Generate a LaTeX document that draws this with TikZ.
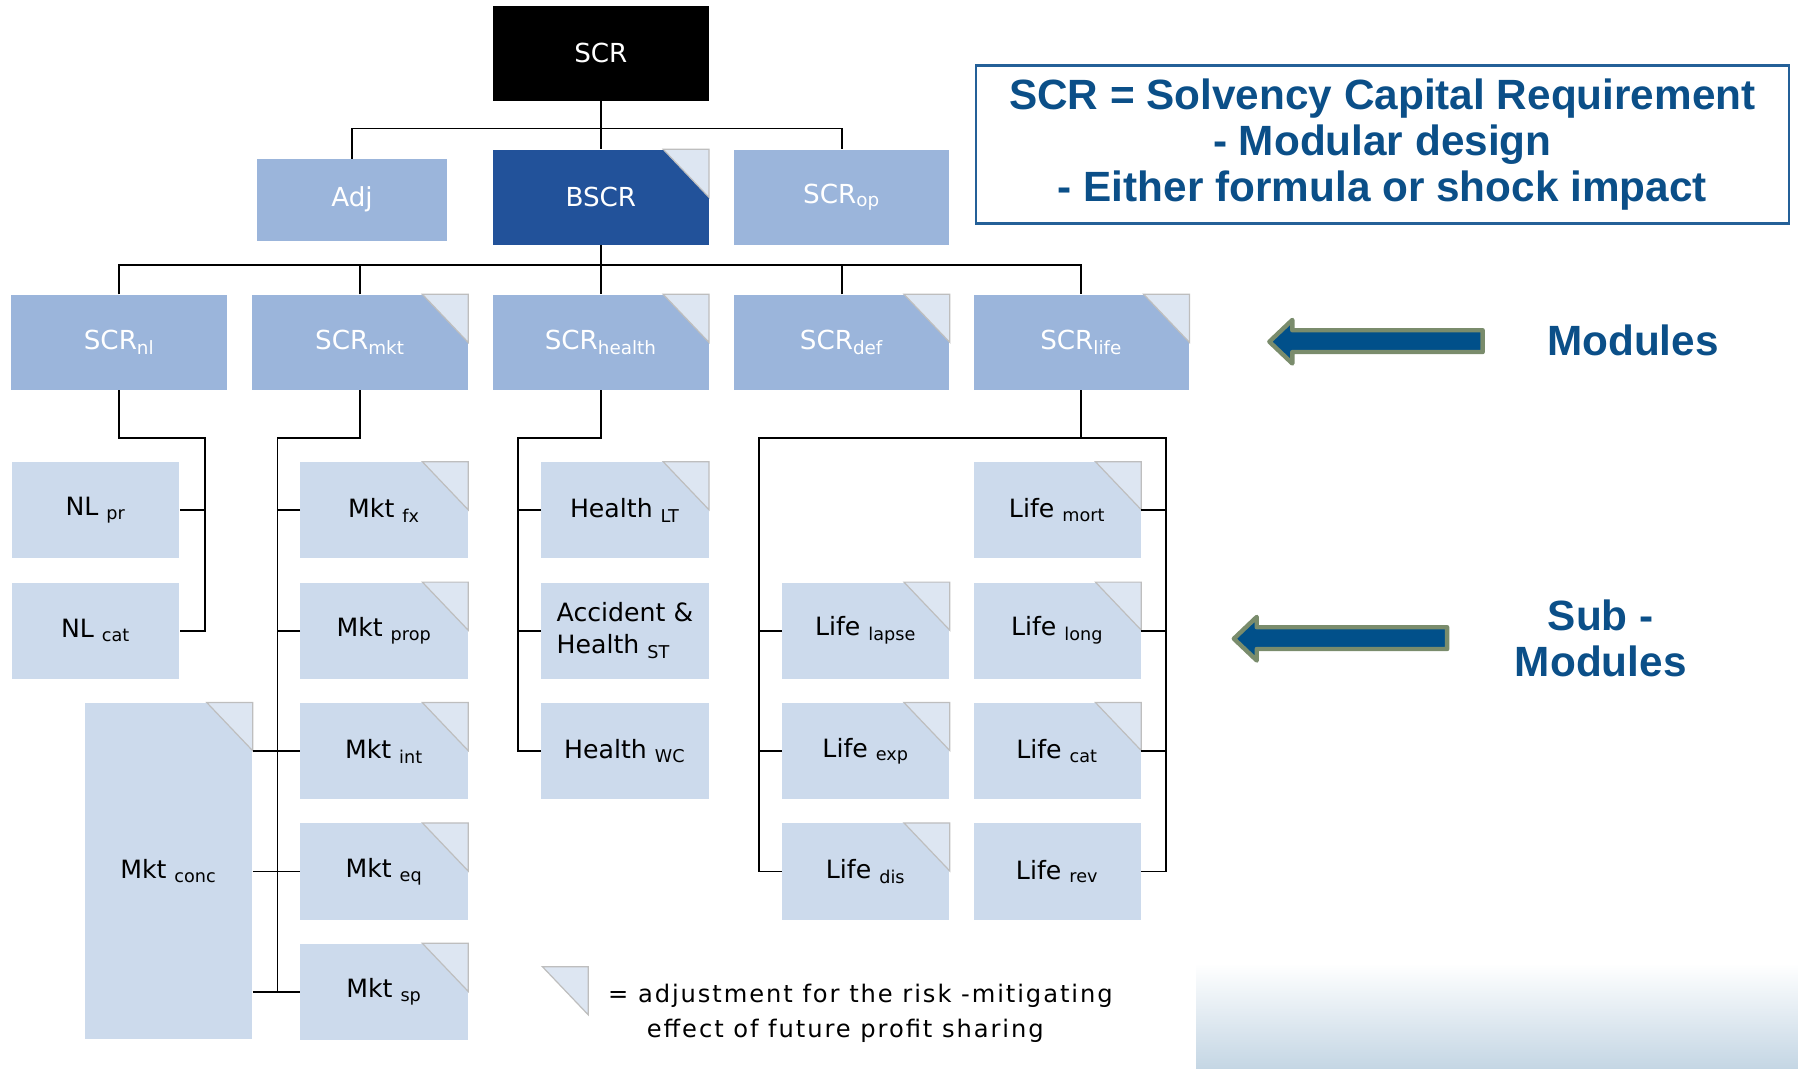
\documentclass[tikz,border=0pt]{standalone}
\usepackage{fontspec}
\setsansfont{DejaVu Sans}
\newfontfamily\titlefont{Liberation Sans}
\newfontfamily\legendfont[LetterSpace=8]{DejaVu Sans}
\definecolor{darkbox}{RGB}{34,82,154}
\definecolor{midbox}{RGB}{155,181,219}
\definecolor{lightbox}{RGB}{204,218,236}
\definecolor{cornerfill}{RGB}{221,230,242}
\definecolor{cornerline}{RGB}{190,190,190}
\definecolor{titleblue}{RGB}{11,79,136}
\definecolor{titleline}{RGB}{36,96,152}
\definecolor{arrowfill}{RGB}{1,80,138}
\definecolor{arrowedge}{RGB}{122,140,108}
\definecolor{fadeblue}{RGB}{196,214,228}

\begin{document}
\begin{tikzpicture}[x=0.02cm, y=-0.02cm,
    every node/.style={inner sep=0pt, font=\sffamily},
    rootbox/.style={fill=black, text=white, minimum width=3.76cm, minimum height=1.66cm, font=\sffamily\fontsize{13}{15}\selectfont},
    basebox/.style={rootbox, fill=darkbox},
    modbox/.style={rootbox, fill=midbox},
    subbox/.style={fill=lightbox, text=black, minimum width=2.92cm, minimum height=1.68cm, font=\sffamily\fontsize{12.5}{16}\selectfont},
    fps/.style={fill=cornerfill, draw=cornerline, line width=0.6pt},
    link/.style={draw=black, line width=0.9pt},
    titlebox/.style={draw=titleline, line width=1.2pt, minimum width=14.18cm, minimum height=2.76cm, align=center, text=titleblue, font=\titlefont\bfseries\fontsize{21}{22.8}\selectfont},
    sidelabel/.style={text=titleblue, align=center, font=\titlefont\bfseries\fontsize{21}{22.8}\selectfont},
    bigarrow/.style={fill=arrowfill, draw=arrowedge, line width=2.2pt, line join=round}
]
\useasboundingbox (0,0) rectangle (1568,932);
\shade[top color=white, bottom color=fadeblue] (1043,840) rectangle (1568,932);

% root and level 2
\node[rootbox] (scr) at (524,46.5) {SCR};
\node[modbox, minimum width=3.32cm, minimum height=1.42cm] (adj) at (307,174.5) {\raisebox{4pt}{Adj}};
\node[basebox] (bscr) at (524,172) {BSCR};
\node[modbox] (scrop) at (734,172) {SCR\textsubscript{op}};

% modules
\node[modbox] (scrnl) at (104,298.5) {SCR\textsubscript{nl}};
\node[modbox] (scrmkt) at (314,298.5) {SCR\textsubscript{mkt}};
\node[modbox] (scrhealth) at (524,298.5) {SCR\textsubscript{health}};
\node[modbox] (scrdef) at (734,298.5) {SCR\textsubscript{def}};
\node[modbox] (scrlife) at (943,298.5) {SCR\textsubscript{life}};

% sub-modules
\node[subbox] (nlpr) at (83.5,445) {NL \textsubscript{pr}};
\node[subbox] (nlcat) at (83.5,550) {NL \textsubscript{cat}};

\node[subbox] (mktfx) at (335,445) {Mkt \textsubscript{fx}};
\node[subbox] (mktprop) at (335,550) {Mkt \textsubscript{prop}};
\node[subbox] (mktint) at (335,655) {Mkt \textsubscript{int}};
\node[subbox] (mkteq) at (335,760) {Mkt \textsubscript{eq}};
\node[subbox] (mktsp) at (335,865) {Mkt \textsubscript{sp}};
\node[subbox, minimum height=5.86cm] (mktconc) at (147,759.5) {Mkt \textsubscript{conc}};

\node[subbox] (healthlt) at (545,445) {Health \textsubscript{LT}};
\node[subbox, align=left] (healthst) at (545,550) {Accident \&\\Health \textsubscript{ST}};
\node[subbox] (healthwc) at (545,655) {Health \textsubscript{WC}};

\node[subbox] (lifemort) at (922,445) {Life \textsubscript{mort}};
\node[subbox] (lifelapse) at (755,550) {Life \textsubscript{lapse}};
\node[subbox] (lifelong) at (922,550) {Life \textsubscript{long}};
\node[subbox] (lifeexp) at (755,655) {Life \textsubscript{exp}};
\node[subbox] (lifecat) at (922,655) {Life \textsubscript{cat}};
\node[subbox] (lifedis) at (755,760) {Life \textsubscript{dis}};
\node[subbox] (liferev) at (922,760) {Life \textsubscript{rev}};

% profit sharing corners
\foreach \n in {bscr, scrmkt, scrhealth, scrdef, scrlife, mktfx, mktprop, mktint, mkteq, mktsp, mktconc, healthlt, lifemort, lifelapse, lifelong, lifeexp, lifecat, lifedis}
    \filldraw[fps] (\n.north east) -- ++(-40,0) -- ++(40,42) -- cycle;

% root to level 2
\coordinate (bus2) at (0,112);
\draw[link] (scr.south) -- (bscr.north);
\draw[link] (adj.north) |- (scrop.north |- bus2) -- (scrop.north);

% level 2 to modules
\coordinate (bus3) at (0,231);
\draw[link] (bscr.south) -- (scrhealth.north);
\draw[link] (scrnl.north) |- (scrlife.north |- bus3) -- (scrlife.north);
\foreach \n in {scrmkt, scrdef}
    \draw[link] (\n.north) -- (\n.north |- bus3);

% non-life
\coordinate (nlbus) at (179,382);
\draw[link] (scrnl.south) |- (nlbus) |- (nlcat.east);
\draw[link] (nlpr.east) -- (nlpr.east -| nlbus);

% market
\coordinate (mktbus) at (242,382);
\draw[link] (scrmkt.south) |- (mktbus) |- (mktsp.west);
\foreach \n in {fx, prop}
    \draw[link] (mkt\n.west) -- (mkt\n.west -| mktbus);
\foreach \n in {int, eq, sp}
    \draw[link] (mktconc.east |- mkt\n.west) -- (mkt\n.west);

% health
\coordinate (healthbus) at (452,382);
\draw[link] (scrhealth.south) |- (healthbus) |- (healthwc.west);
\foreach \n in {lt, st}
    \draw[link] (health\n.west) -- (health\n.west -| healthbus);

% life
\coordinate (lifebusl) at (662,382);
\coordinate (lifebusr) at (1017,382);
\draw[link] (scrlife.south) -- (scrlife.south |- lifebusl);
\draw[link] (lifedis.west) -| (lifebusl) -- (lifebusr) |- (liferev.east);
\foreach \n in {lapse, exp}
    \draw[link] (life\n.west) -- (life\n.west -| lifebusl);
\foreach \n in {mort, long, cat}
    \draw[link] (life\n.east) -- (life\n.east -| lifebusr);

% legend
\filldraw[fps] (473,843) -- ++(40,0) -- ++(0,42) -- cycle;
\node[anchor=west, align=left, font=\legendfont\fontsize{12}{17.6}\selectfont] (legend) at (530,883.5)
    {= adjustment for the risk -mitigating\\\hspace*{1.6em}effect of future profit sharing};

% right side
\node[titlebox] (title) at (1205.5,126) {SCR = Solvency Capital Requirement\\- Modular design\\- Either formula or shock impact};
\foreach \x/\y in {1107/298, 1076/557}
    \filldraw[bigarrow] (\x,\y) -- ++(20,-19) -- ++(0,9) -- ++(166,0) -- ++(0,19) -- ++(-166,0) -- ++(0,10) -- cycle;
\node[sidelabel] (modules) at (1424,297) {Modules};
\node[sidelabel] (submodules) at (1396,557) {Sub -\\Modules};

\end{tikzpicture}
\end{document}
